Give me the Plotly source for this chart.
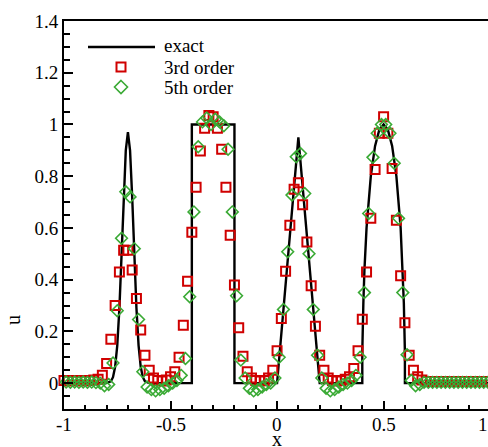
import plotly.graph_objects as go

# ---------------- data ----------------
exact_x = [-1.0, -0.80, -0.78, -0.77, -0.76, -0.75, -0.74, -0.73, -0.72, -0.71, -0.70,
           -0.69, -0.68, -0.67, -0.66, -0.65, -0.64, -0.63, -0.62, -0.60,
           -0.40, -0.40, -0.20, -0.20,
           0.0, 0.10, 0.20,
           0.40, 0.40, 0.405, 0.41, 0.42, 0.44, 0.46, 0.48, 0.50, 0.52, 0.54, 0.56, 0.58, 0.59, 0.595, 0.60, 0.60,
           1.0]
exact_u = [0.0, 0.0, 0.007, 0.023, 0.063, 0.146, 0.29, 0.50, 0.72, 0.90, 0.97,
           0.90, 0.72, 0.50, 0.29, 0.146, 0.063, 0.023, 0.007, 0.0,
           0.0, 1.0, 1.0, 0.0,
           0.0, 0.95, 0.0,
           0.0, 0.12, 0.31, 0.436, 0.60, 0.80, 0.917, 0.98, 1.0, 0.98, 0.917, 0.80, 0.60, 0.436, 0.31, 0.12, 0.0,
           0.0]

x3 = [-1.00, -0.98, -0.96, -0.94, -0.92, -0.90, -0.88, -0.86, -0.84, -0.82,
      -0.80, -0.78, -0.76, -0.74, -0.72, -0.70, -0.68, -0.66, -0.64, -0.62,
      -0.60, -0.58, -0.56, -0.54, -0.52, -0.50, -0.48, -0.46, -0.44, -0.42,
      -0.40, -0.38, -0.36, -0.34, -0.32, -0.30, -0.28, -0.26, -0.24, -0.22,
      -0.20, -0.18, -0.16, -0.14, -0.12, -0.10, -0.08, -0.06, -0.04, -0.02,
      0.00, 0.02, 0.04, 0.06, 0.08, 0.10, 0.12, 0.14, 0.16, 0.18,
      0.20, 0.22, 0.24, 0.26, 0.28, 0.30, 0.32, 0.34, 0.36, 0.38,
      0.40, 0.42, 0.44, 0.46, 0.48, 0.50, 0.52, 0.54, 0.56, 0.58,
      0.60, 0.62, 0.64, 0.66, 0.68, 0.70, 0.72, 0.74, 0.76, 0.78,
      0.80, 0.82, 0.84, 0.86, 0.88, 0.90, 0.92, 0.94, 0.96, 0.98, 1.00]
u3 = [0.010, 0.008, 0.010, 0.008, 0.010, 0.008, 0.010, 0.012, 0.015, 0.030,
      0.076, 0.170, 0.300, 0.430, 0.514, 0.514, 0.437, 0.327, 0.205, 0.108,
      0.050, 0.020, 0.010, 0.008, 0.012, 0.025, 0.044, 0.100, 0.224, 0.394,
      0.583, 0.757, 0.897, 0.985, 1.035, 1.030, 0.985, 0.904, 0.757, 0.572,
      0.379, 0.214, 0.104, 0.044, 0.020, 0.010, 0.008, 0.010, 0.020, 0.050,
      0.125, 0.250, 0.433, 0.610, 0.750, 0.775, 0.690, 0.546, 0.376, 0.220,
      0.108, 0.050, 0.020, 0.010, 0.008, 0.010, 0.015, 0.025, 0.057, 0.125,
      0.247, 0.430, 0.637, 0.826, 0.966, 1.030, 0.966, 0.830, 0.630, 0.415,
      0.233, 0.108, 0.050, 0.025, 0.012, 0.006, 0.006, 0.006, 0.006, 0.006,
      0.006, 0.006, 0.006, 0.006, 0.006, 0.006, 0.006, 0.006, 0.006, 0.006, 0.006]

x5 = [-0.99, -0.97, -0.95, -0.93, -0.91, -0.89, -0.87, -0.85, -0.83, -0.81,
      -0.79, -0.77, -0.75, -0.73, -0.71, -0.69, -0.67, -0.65, -0.63, -0.61,
      -0.59, -0.57, -0.55, -0.53, -0.51, -0.49, -0.47, -0.45, -0.43, -0.41,
      -0.39, -0.37, -0.35, -0.33, -0.31, -0.29, -0.27, -0.25, -0.23, -0.21,
      -0.19, -0.17, -0.15, -0.13, -0.11, -0.09, -0.07, -0.05, -0.03, -0.01,
      0.01, 0.03, 0.05, 0.07, 0.09, 0.11, 0.13, 0.15, 0.17, 0.19,
      0.21, 0.23, 0.25, 0.27, 0.29, 0.31, 0.33, 0.35, 0.37, 0.39,
      0.41, 0.43, 0.45, 0.47, 0.49, 0.51, 0.53, 0.55, 0.57, 0.59,
      0.61, 0.63, 0.65, 0.67, 0.69, 0.71, 0.73, 0.75, 0.77, 0.79,
      0.81, 0.83, 0.85, 0.87, 0.89, 0.91, 0.93, 0.95, 0.97, 0.99]
u5 = [0.004, 0.003, 0.004, 0.003, 0.004, 0.003, 0.004, 0.002, 0.000, -0.010,
      -0.005, 0.078, 0.280, 0.560, 0.740, 0.720, 0.520, 0.246, 0.044, -0.015,
      -0.025, -0.030, -0.025, -0.020, -0.010, 0.000, 0.010, 0.030, 0.095, 0.334,
      0.662, 0.914, 1.010, 1.025, 1.000, 1.020, 1.010, 0.995, 0.904, 0.662,
      0.338, 0.089, 0.020, -0.020, -0.030, -0.025, -0.015, -0.005, 0.000, 0.020,
      0.100, 0.285, 0.508, 0.727, 0.875, 0.888, 0.733, 0.500, 0.285, 0.108,
      0.020, -0.020, -0.030, -0.025, -0.015, -0.005, 0.000, 0.010, 0.030, 0.100,
      0.350, 0.656, 0.873, 0.966, 1.000, 1.000, 0.966, 0.850, 0.637, 0.350,
      0.110, 0.010, -0.010, -0.005, 0.003, 0.003, 0.003, 0.003, 0.003, 0.003,
      0.003, 0.003, 0.003, 0.003, 0.003, 0.003, 0.003, 0.003, 0.003, 0.003]

x_tickvals = [-1, -0.5, 0, 0.5, 1]
x_ticktext = ["-1", "-0.5", "0", "0.5", "1"]
y_tickvals = [0, 0.2, 0.4, 0.6, 0.8, 1.0, 1.2, 1.4]
y_ticktext = ["0", "0.2", "0.4", "0.6", "0.8", "1", "1.2", "1.4"]
legend_names = ["exact", "3rd order", "5th order"]

# ---------------- styling ----------------
W, H = 488, 447
ML, MR, MT, MB = 64, 0, 21, 38
XMIN, XMAX = -1, 0.99
FONT = "'Liberation Serif', 'Times New Roman', serif"
RED = "#d00000"
GREEN = "#3aaa35"

def px_x(p):  # screen pixel -> paper x
    return (p - ML) / (W - ML - MR)

def px_y(p):  # screen pixel -> paper y
    return 1 - (p - MT) / (H - MT - MB)

def data_to_paper_x(v):
    return (v - XMIN) / (XMAX - XMIN)

fig = go.Figure()
fig.add_trace(go.Scatter(x=exact_x, y=exact_u, mode="lines",
                         line=dict(color="black", width=2.4), showlegend=False,
                         cliponaxis=False))
fig.add_trace(go.Scatter(x=x3, y=u3, mode="markers", showlegend=False,
                         marker=dict(symbol="square-open", size=9, color=RED,
                                     line=dict(width=2, color=RED)),
                         cliponaxis=False))
fig.add_trace(go.Scatter(x=x5, y=u5, mode="markers", showlegend=False,
                         marker=dict(symbol="diamond-open", size=9, color=GREEN,
                                     line=dict(width=1.6, color=GREEN)),
                         cliponaxis=False))

fig.update_layout(
    width=W, height=H,
    margin=dict(l=ML, r=MR, t=MT, b=MB, pad=0, autoexpand=False),
    paper_bgcolor="white", plot_bgcolor="white",
    font=dict(family=FONT, size=19, color="black"),
    showlegend=False,
)
fig.update_xaxes(range=[XMIN, XMAX], tickvals=x_tickvals, showticklabels=False,
                 ticks="inside", ticklen=8, tickwidth=2, tickcolor="black",
                 minor=dict(dtick=0.1, tick0=0, ticks="inside", ticklen=4, tickwidth=1.5, tickcolor="black"),
                 showline=True, linewidth=2, linecolor="black", mirror=True,
                 showgrid=False, zeroline=False, automargin=False)
fig.update_yaxes(range=[-0.1, 1.4], tickvals=y_tickvals, ticktext=y_ticktext,
                 ticks="inside", ticklen=9, tickwidth=2, tickcolor="black",
                 minor=dict(dtick=0.05, tick0=0, ticks="inside", ticklen=6, tickwidth=1.5, tickcolor="black"),
                 showline=True, linewidth=2, linecolor="black",
                 showgrid=False, zeroline=False, automargin=False,
                 tickfont=dict(family=FONT, size=19))

# x tick labels (placed as paper annotations so the edge "1" still shows)
for v, t in zip(x_tickvals, x_ticktext):
    xp = data_to_paper_x(v)
    if v == 1:
        xp = px_x(483)
    fig.add_annotation(x=xp, y=px_y(424.5), xref="paper", yref="paper", text=t,
                       showarrow=False, font=dict(family=FONT, size=19),
                       xanchor="center", yanchor="middle")
# axis titles
fig.add_annotation(x=px_x(277), y=px_y(439), xref="paper", yref="paper", text="x",
                   showarrow=False, font=dict(family=FONT, size=20), xanchor="center", yanchor="middle")
fig.add_annotation(x=px_x(13), y=px_y(320), xref="paper", yref="paper", text="u",
                   showarrow=False, textangle=-90, font=dict(family=FONT, size=20),
                   xanchor="center", yanchor="middle")

# ---- manual legend ----
fig.add_shape(type="line", xref="paper", yref="paper",
              x0=px_x(88), x1=px_x(155), y0=px_y(47), y1=px_y(47),
              line=dict(color="black", width=2.4))
fig.add_shape(type="rect", xref="paper", yref="paper",
              x0=px_x(116.5), x1=px_x(125.5), y0=px_y(62.5), y1=px_y(71.5),
              line=dict(color=RED, width=2))
cx, cy, r = 121, 87, 6.5
fig.add_shape(type="path", xref="paper", yref="paper",
              path=f"M {px_x(cx)} {px_y(cy - r)} L {px_x(cx + r)} {px_y(cy)} L {px_x(cx)} {px_y(cy + r)} L {px_x(cx - r)} {px_y(cy)} Z",
              line=dict(color=GREEN, width=1.6))
for name, yy in zip(legend_names, [45, 67, 87]):
    fig.add_annotation(x=px_x(162), y=px_y(yy), xref="paper", yref="paper", text=name,
                       showarrow=False, xanchor="left", yanchor="middle",
                       font=dict(family=FONT, size=19))

# remove the page's default body margin / scrollbars so the figure fills the window
fig.write_html("out.html", config={"displayModeBar": False},
               post_script="document.body.style.margin='0';document.body.style.overflow='hidden';")
